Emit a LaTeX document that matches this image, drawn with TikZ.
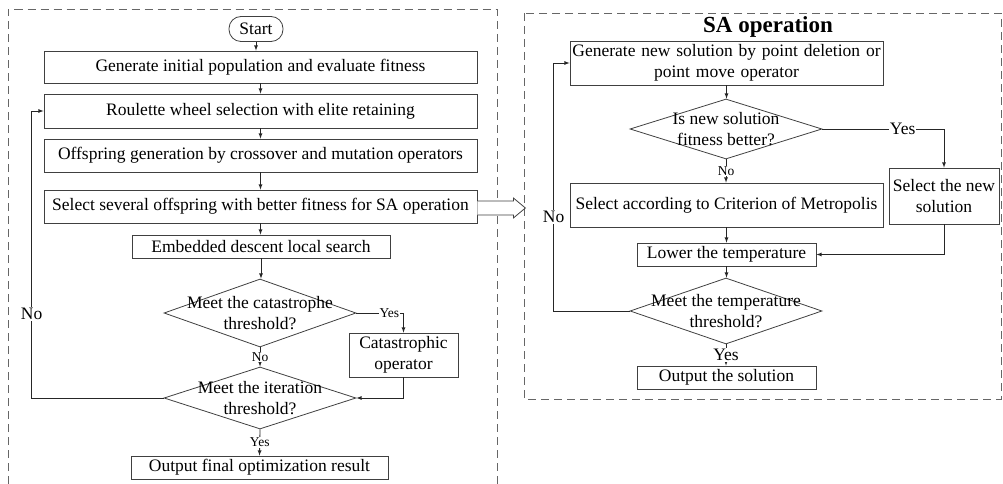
\documentclass[tikz,border=0pt]{standalone}
\usepackage{fontspec}
\setmainfont{Liberation Serif}
\usetikzlibrary{shapes.geometric}

\newcommand{\nsz}{\fontsize{17.5}{21}\selectfont}
\newcommand{\ssz}{\fontsize{13.5}{16}\selectfont}

\tikzstyle{startstop} = [rectangle, rounded corners=12pt, minimum width=54pt, minimum height=25pt, inner sep=0pt, text centered, draw=black!75, font=\nsz]
\tikzstyle{process} = [rectangle, minimum height=23pt, inner sep=0pt, align=center, draw=black!75, font=\nsz]
\tikzstyle{decision} = [diamond, minimum width=192pt, inner sep=0pt, draw=black!75]
\tikzstyle{frame} = [draw=black!60, dash pattern=on 8pt off 5pt, line width=0.8pt]
\tikzstyle{arrow} = [-latex, draw=black!85, line width=0.8pt]

\begin{document}
\begin{tikzpicture}[x=1pt, y=-1pt, line width=0.8pt]
        \useasboundingbox (0,0) rectangle (1003,484);
        % dashed frames
        \draw [frame] (8,484) -- (8,9.5) -- (497,9.5) -- (497,484);
        \draw [frame] (524,13) rectangle (1001,399);

        % GA part
        \node (start) [startstop] at (256,29) {Start};
        \node (gen) [process, minimum width=433pt, minimum height=32pt] at (260.5,67) {Generate initial population and evaluate fitness};
        \node (rou) [process, minimum width=433pt, minimum height=34pt] at (260.5,111) {Roulette wheel selection with elite retaining};
        \node (off) [process, minimum width=433pt, minimum height=33pt] at (260.5,155.5) {Offspring generation by crossover and mutation operators};
        \node (sel) [process, minimum width=433pt, minimum height=33pt] at (260.5,206.5) {Select several offspring with better fitness for SA operation};
        \node (emb) [process, minimum width=258pt] at (261,246.5) {Embedded descent local search};
        \node (cat) [decision, minimum height=68pt, label={[align=center, font=\nsz]center:Meet the catastrophe\\threshold?}] at (260,313) {};
        \node (catop) [process, minimum width=109pt, minimum height=44pt] at (403.5,355) {Catastrophic\\operator};
        \node (ite) [decision, minimum height=62pt, label={[align=center, font=\nsz]center:Meet the iteration\\threshold?}] at (260,398) {};
        \node (outf) [process, minimum width=257pt] at (259.5,467.5) {Output final optimization result};

        \draw [arrow] (start.south) -- (start.south |- gen.north);
        \draw [arrow] (gen) -- (rou);
        \draw [arrow] (rou) -- (off);
        \draw [arrow] (off) -- (sel);
        \draw [arrow] (sel.south) -- (sel.south |- emb.north);
        \draw [arrow] (emb.south) -- (emb.south |- cat.north);
        \draw [arrow] (cat.east) -| (catop.north) node [pos=0.35, fill=white, inner sep=1pt, font=\ssz] {Yes};
        \draw [arrow] (cat.south) -- (ite.north) node [midway, fill=white, inner sep=1pt, font=\ssz] {No};
        \draw [arrow] (catop.south) |- (ite.east);
        \draw [arrow] (ite.west) -| ([xshift=-12pt]rou.west) node [pos=0.646, fill=white, inner sep=1pt, font=\nsz] {No} -- (rou.west);
        \draw [arrow] (ite.south) -- (outf.north) node [midway, fill=white, inner sep=1pt, font=\ssz] {Yes};

        % hollow arrow to SA part
        \draw [draw=black!75, fill=white] ([yshift=5.5pt]sel.east) -- ++(36pt,0) -- ++(0,3pt) -- ++(12pt,-10pt) -- ++(-12pt,-10pt) -- ++(0,3pt) -- ++(-36pt,0);

        % SA part
        \node (title) [font=\fontsize{23}{27}\selectfont\bfseries] at (768,27) {SA operation};
        \node (newsol) [process, minimum width=313pt, minimum height=44pt, text width=313pt] at (726.5,63) {Generate new solution by point deletion or\\point move operator};
        \node (better) [decision, minimum height=60pt, label={[align=center, font=\nsz]center:Is new solution\\fitness better?}] at (726,129) {};
        \node (selnew) [process, minimum width=110pt, minimum height=56pt] at (944,196) {Select the new\\solution};
        \node (metro) [process, minimum width=313pt, minimum height=44pt] at (726.5,205) {Select according to Criterion of Metropolis};
        \node (lower) [process, minimum width=179pt] at (726.5,254.5) {Lower the temperature};
        \node (temp) [decision, minimum height=66pt, label={[align=center, font=\nsz]center:Meet the temperature\\threshold?}] at (726,311) {};
        \node (outs) [process, minimum width=179pt] at (726.5,377.5) {Output the solution};

        \draw [arrow] (newsol.south) -- (newsol.south |- better.north);
        \draw [arrow] (better.east) -| (selnew.north) node [pos=0.33, fill=white, inner sep=1pt, font=\nsz] {Yes};
        \draw [arrow] (better.south) -- (better.south |- metro.north) node [midway, fill=white, inner sep=1pt, font=\ssz] {No};
        \draw [arrow] (metro) -- (lower);
        \draw [arrow] (selnew.south) |- (lower.east);
        \draw [arrow] (lower.south) -- (lower.south |- temp.north);
        \draw [arrow] (temp.west) -| ([xshift=-16pt]newsol.west) node [pos=0.69, fill=white, inner sep=1pt, font=\nsz] {No} -- (newsol.west);
        \draw [arrow] (temp.south) -- (temp.south |- outs.north) node [midway, fill=white, inner sep=1pt, font=\nsz] {Yes};
    \end{tikzpicture}
\end{document}
